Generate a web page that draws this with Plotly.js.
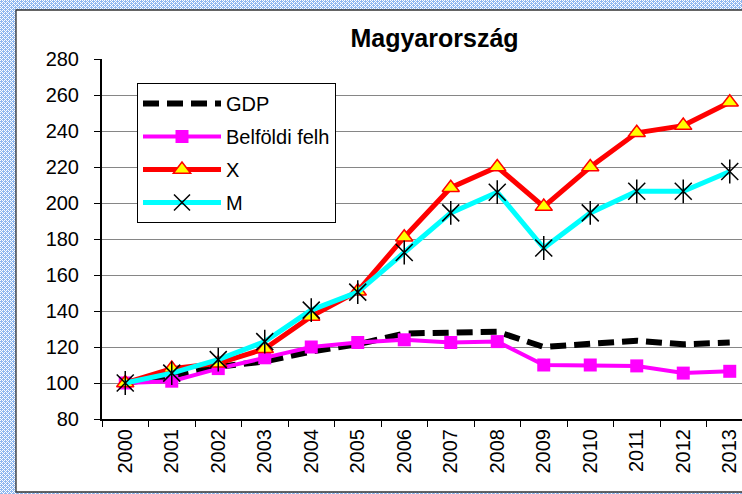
<!DOCTYPE html>
<html>
<head>
<meta charset="utf-8">
<script src="https://cdn.plot.ly/plotly-3.0.1.min.js"></script>
<style>
  html, body { margin: 0; padding: 0; }
  body {
    width: 742px; height: 494px; overflow: hidden;
    background-color: #ffffff;
    background-image:
      radial-gradient(circle at 1.5px 1.5px, #8fb8f0 1.1px, rgba(255,255,255,0) 1.3px),
      radial-gradient(circle at 1.5px 1.5px, #8fb8f0 1.1px, rgba(255,255,255,0) 1.3px);
    background-size: 4px 4px, 4px 4px;
    background-position: 0 0, 2px 2px;
  }
  #chart { width: 742px; height: 494px; }
</style>
</head>
<body>
<div id="chart"></div>
<script>
const years = ['2000','2001','2002','2003','2004','2005','2006','2007','2008','2009','2010','2011','2012','2013'];
const gdp   = [100, 104, 109, 112, 117.5, 121.5, 127.5, 128, 128.5, 120, 121.5, 123.5, 121.5, 122.5];
const belf  = [100, 101, 108, 114, 120, 122.5, 124, 122.5, 123, 110, 110, 109.5, 105.5, 106.5];
const xExp  = [100, 108, 111, 119, 137, 151, 181, 208.5, 220, 198, 220, 239, 243, 256];
const mImp  = [100, 105.5, 113, 123, 140.5, 150.5, 172.5, 194.5, 206, 175, 194.5, 206.5, 206.5, 217.5];
const names = ['GDP', 'Belföldi felh', 'X', 'M'];

const FONT = 'Liberation Sans, Arial, sans-serif';

const traces = [
  {
    x: years, y: gdp, name: names[0], type: 'scatter', mode: 'lines',
    line: { color: '#000000', width: 6, dash: '16px,8px' },
    legendgroup: 'g1'
  },
  {
    x: years, y: belf, name: names[1], type: 'scatter', mode: 'lines+markers',
    line: { color: '#FF00FF', width: 4 },
    marker: { symbol: 'square', size: 13, color: '#FF00FF' },
    legendgroup: 'g2'
  },
  {
    x: years, y: xExp, name: names[2], type: 'scatter', mode: 'lines+markers',
    line: { color: '#FF0000', width: 5 },
    marker: { symbol: 'triangle-up', size: 15, color: '#FFFF00', line: { color: '#FF0000', width: 1.5 } },
    legendgroup: 'g3'
  },
  {
    x: years, y: mImp, name: names[3], type: 'scatter', mode: 'lines+markers',
    line: { color: '#00FFFF', width: 5 },
    marker: { symbol: 'x-thin-open', size: 17, color: '#000000', line: { color: '#000000', width: 1.5 } },
    legendgroup: 'g4'
  },
  {
    x: years, y: mImp, name: names[3], type: 'scatter', mode: 'markers',
    marker: { symbol: 'line-ns-open', size: 17, color: '#000000', line: { color: '#000000', width: 1.5 } },
    legendgroup: 'g4', showlegend: false, hoverinfo: 'skip'
  }
];

const layout = {
  width: 742, height: 494,
  margin: { l: 102, r: 0, t: 59, b: 75, pad: 0 },
  paper_bgcolor: 'rgba(0,0,0,0)',
  plot_bgcolor: '#ffffff',
  font: { family: FONT, color: '#000000', size: 20 },
  title: {
    text: '<b>Magyarország</b>',
    font: { family: FONT, size: 25, color: '#000000' },
    xref: 'container', yref: 'container',
    x: 434.5 / 742, y: 1 - 38 / 494, xanchor: 'center', yanchor: 'middle'
  },
  xaxis: {
    type: 'category',
    range: [-0.5, (742 - 102) / 46.5 - 0.5],
    tickangle: -90,
    ticks: 'outside', tickson: 'boundaries', ticklen: 6, tickwidth: 1, tickcolor: '#000000',
    showline: true, linecolor: '#000000', linewidth: 2,
    showgrid: false, zeroline: false,
    tickfont: { family: FONT, size: 20, color: '#000000' },
    fixedrange: true
  },
  yaxis: {
    range: [80, 280], tick0: 80, dtick: 20,
    ticks: 'outside', ticklen: 6, tickwidth: 1, tickcolor: '#000000',
    showline: true, linecolor: '#000000', linewidth: 2,
    showgrid: true, gridcolor: '#868686', gridwidth: 1,
    zeroline: false,
    ticklabelstandoff: 11,
    tickfont: { family: FONT, size: 20, color: '#000000' },
    fixedrange: true
  },
  legend: {
    x: (137 - 102) / 640, y: (419 - 83) / 360, xanchor: 'left', yanchor: 'top',
    bgcolor: '#ffffff', bordercolor: '#000000', borderwidth: 1,
    font: { family: FONT, size: 20, color: '#000000' },
    traceorder: 'grouped', tracegroupgap: 4, itemwidth: 78
  },
  shapes: [
    {
      type: 'rect', xref: 'paper', yref: 'paper', layer: 'below',
      x0: (16 - 102) / 640, x1: 1.2,
      y0: (419 - 492) / 360, y1: (419 - 10) / 360,
      fillcolor: '#ffffff', line: { color: '#333333', width: 1.3 }
    }
  ],
  showlegend: true
};

Plotly.newPlot('chart', traces, layout, { displayModeBar: false, staticPlot: true });
</script>
</body>
</html>
